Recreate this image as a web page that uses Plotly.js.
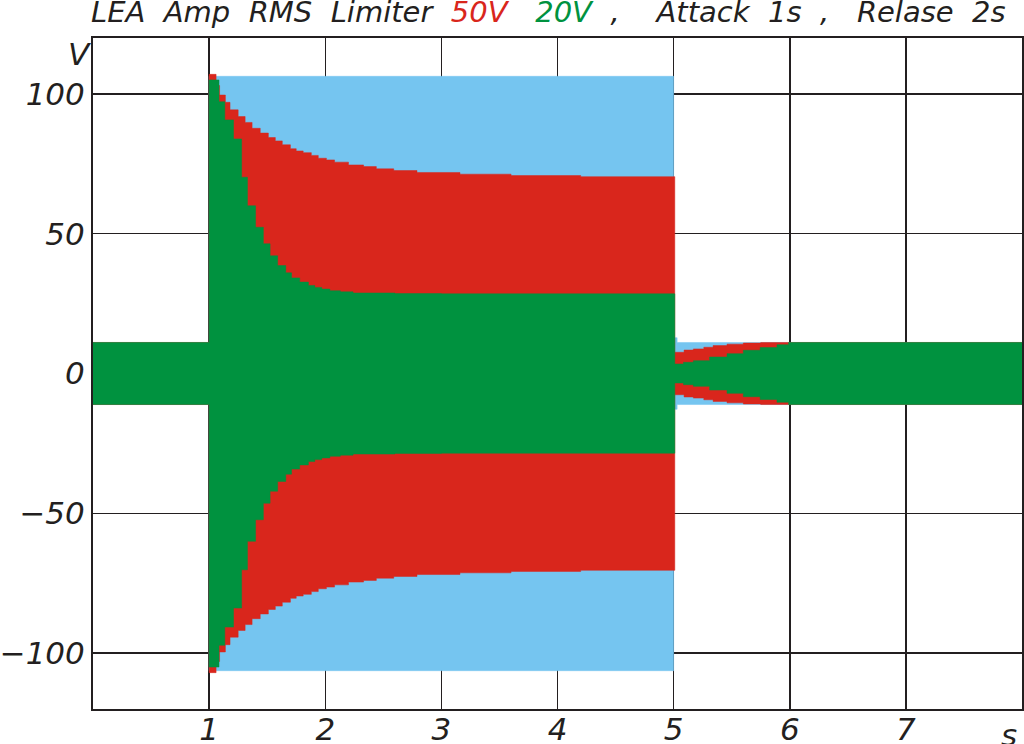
<!DOCTYPE html>
<html>
<head>
<meta charset="utf-8">
<script src="https://cdn.plot.ly/plotly-3.0.1.min.js"></script>
<style>
  html, body { margin: 0; padding: 0; background: #ffffff; }
  #chart { width: 1024px; height: 744px; }
</style>
</head>
<body>
<div id="chart"></div>
<script>
// ---- Data (envelope peak values in V) ----
// Input signal without limiter (blue)
var inputTime = [0, 1.0, 5.0, 5.03, 8];
var inputPeak = [11.1, 106.3, 12.8, 11.1, 11.1];

// Limiter set to 50 V RMS (red)
var lim50Time = [0, 1.00, 1.06, 1.09, 1.14, 1.18, 1.25, 1.31, 1.37, 1.44, 1.51, 1.57, 1.63, 1.70,
                 1.75, 1.81, 1.88, 1.94, 2.01, 2.08, 2.20, 2.33, 2.44, 2.59, 2.79, 3.16, 3.6, 4.2,
                 5.01, 5.09, 5.17, 5.26, 5.34, 5.46, 5.6, 5.75, 8];
var lim50Peak = [11.1, 107, 103, 99.6, 97, 94.3, 91.9, 89.8, 87.7, 86, 84.4, 83.2, 81.8, 80.4,
                 79.6, 79, 78, 77, 76.4, 75.6, 74.6, 74, 73.2, 72.6, 71.9, 71.3, 70.8, 70.4,
                 7.6, 8.4, 8.8, 9.4, 10.0, 10.5, 10.9, 11.1, 11.1];

// Limiter set to 20 V RMS (green)
var lim20Time = [0, 1.00, 1.085, 1.135, 1.21, 1.28, 1.33, 1.40, 1.467, 1.525, 1.59, 1.66, 1.71,
                 1.78, 1.855, 1.91, 1.97, 2.04, 2.13, 2.24, 2.6, 3.0,
                 5.01, 5.085, 5.17, 5.31, 5.46, 5.6, 5.745, 5.89, 5.99, 8];
var lim20Peak = [11.1, 105, 97.2, 90.7, 83.9, 70.2, 60, 52.3, 46.4, 42.1, 38.6, 36, 34.2,
                 32.7, 31.5, 30.8, 30.2, 29.6, 29.2, 28.8, 28.6, 28.5,
                 3.4, 4.0, 4.6, 5.9, 7.1, 8.3, 9.3, 10.3, 11.1, 11.1];

// Axis ticks
var xTickVals = [1, 2, 3, 4, 5, 6, 7];
var xTickText = ['1', '2', '3', '4', '5', '6', '7'];
var yTickVals = [-100, -50, 0, 50, 100];
var yTickText = ['\u2212100', '\u221250', '0', '50', '100'];

// ---- Styles ----
var BLUE = '#75C5F0', RED = '#D9261C', GREEN = '#00923F', INK = '#231F20';
var FONT = {family: 'DejaVu Sans', size: 31, style: 'italic', color: INK};

function band(t, peak, color) {
  var neg = peak.map(function (v) { return -v; });
  return [
    {x: t, y: neg, type: 'scatter', mode: 'lines', line: {shape: 'hv', width: 0.5, color: color},
     hoverinfo: 'skip', showlegend: false},
    {x: t, y: peak, type: 'scatter', mode: 'lines', line: {shape: 'hv', width: 0.5, color: color},
     fill: 'tonexty', fillcolor: color, hoverinfo: 'skip', showlegend: false}
  ];
}

var traces = [].concat(
  band(inputTime, inputPeak, BLUE),
  band(lim50Time, lim50Peak, RED),
  band(lim20Time, lim20Peak, GREEN)
);

var nb = '\u00a0';
function sp(n) { return nb.repeat(n); }
var titleText = 'LEA' + sp(2) + 'Amp' + sp(2) + 'RMS' + sp(2) + 'Limiter' + sp(2) +
  '<span style="color:' + RED + '">50V</span>' + sp(3) +
  '<span style="color:' + GREEN + '">20V</span>' + sp(2) + ',' + sp(4) +
  'Attack' + sp(2) + '1s' + sp(2) + ',' + sp(3) + 'Relase' + sp(2) + '2s';

var layout = {
  width: 1024, height: 744,
  margin: {l: 93, r: 2, t: 38, b: 35, pad: 0},
  paper_bgcolor: '#ffffff', plot_bgcolor: '#ffffff',
  font: FONT,
  title: {
    text: titleText,
    font: {family: 'DejaVu Sans', size: 29, style: 'italic', color: INK},
    xref: 'container', x: 91 / 1024, xanchor: 'left',
    yref: 'container', y: 1 - 2 / 744, yanchor: 'top'
  },
  xaxis: {
    range: [0, 8], tickvals: xTickVals, ticktext: xTickText,
    showgrid: true, gridcolor: INK, gridwidth: 1.5,
    zeroline: false, showline: true, mirror: true, linecolor: INK, linewidth: 2,
    ticks: '', ticklabelstandoff: -8, layer: 'below traces', tickfont: FONT, fixedrange: true
  },
  yaxis: {
    range: [-120, 120], tickvals: yTickVals, ticktext: yTickText,
    showgrid: true, gridcolor: INK, gridwidth: 1.5,
    zeroline: false, showline: true, mirror: true, linecolor: INK, linewidth: 2,
    ticks: '', ticklabelstandoff: 0, layer: 'below traces', tickfont: FONT, fixedrange: true
  },
  annotations: [
    {text: 'V', xref: 'paper', x: 0, xanchor: 'right', xshift: 1,
     yref: 'y', y: 114.3, yanchor: 'middle', showarrow: false, font: FONT},
    {text: 's', xref: 'paper', x: 1, xanchor: 'right', xshift: -3,
     yref: 'paper', y: 0, yanchor: 'middle', yshift: -26, showarrow: false, font: FONT}
  ]
};

Plotly.newPlot('chart', traces, layout, {staticPlot: true, displayModeBar: false});
</script>
</body>
</html>
